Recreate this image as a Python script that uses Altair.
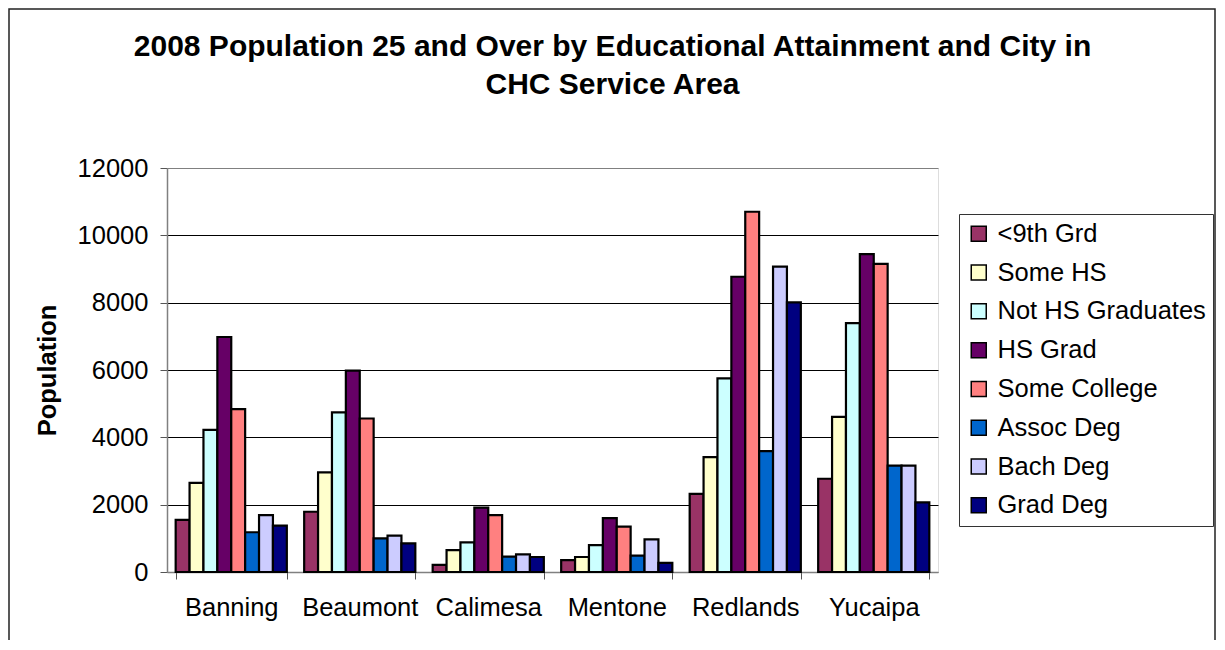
import altair as alt
import pandas as pd

cities = ["Banning", "Beaumont", "Calimesa", "Mentone", "Redlands", "Yucaipa"]
levels = ["<9th Grd", "Some HS", "Not HS Graduates", "HS Grad", "Some College",
          "Assoc Deg", "Bach Deg", "\u2002Grad Deg"]
colors = ["#993366", "#FFFFCC", "#CCFFFF", "#660066", "#FF8080",
          "#0066CC", "#CCCCFF", "#000080"]

lt9 = [1550, 1790, 210, 350, 2320, 2770]
some_hs = [2650, 2960, 650, 445, 3410, 4610]
not_hs = [4220, 4740, 880, 800, 5750, 7390]
hs_grad = [6980, 5980, 1910, 1600, 8770, 9440]
some_college = [4840, 4560, 1690, 1345, 10700, 9150]
assoc = [1180, 1000, 455, 485, 3590, 3160]
bach = [1690, 1080, 525, 970, 9070, 3160]
grad = [1375, 850, 445, 270, 8010, 2070]

series = [lt9, some_hs, not_hs, hs_grad, some_college, assoc, bach, grad]
rows = []
for lvl, vals in zip(levels, series):
    for c, v in zip(cities, vals):
        rows.append({"City": c, "Level": lvl, "Population": v})
df = pd.DataFrame(rows)

FONT = "Liberation Sans"
LBL = 25.5

bars = alt.Chart(df).mark_bar(stroke="black", strokeWidth=2.2).encode(
    x=alt.X("City:N", sort=cities,
            scale=alt.Scale(paddingInner=0.135, paddingOuter=0.0675),
            axis=alt.Axis(title=None, labelAngle=0, tickBand="extent", tickSize=7,
                          tickColor="#555555", domainColor="#808080", domainWidth=1.5,
                          labelFontSize=LBL, labelPadding=16, labelColor="black",
                          labelFont=FONT)),
    xOffset=alt.XOffset("Level:N", sort=levels,
                        scale=alt.Scale(paddingInner=0, paddingOuter=0)),
    y=alt.Y("Population:Q",
            scale=alt.Scale(domain=[0, 12000], nice=False),
            axis=alt.Axis(values=list(range(0, 12001, 2000)), format="d",
                          title="Population", titleFontSize=25.5, titleFontWeight="bold",
                          titleFont=FONT, titleColor="black",
                          titleAngle=270, titleX=-112, titleY=202,
                          titleAlign="center", titleBaseline="alphabetic",
                          labelFontSize=LBL, labelFont=FONT, labelColor="black",
                          labelPadding=12, tickSize=7, tickColor="#555555",
                          domainColor="#808080", domainWidth=1.5,
                          grid=True, gridWidth=1,
                          gridColor={"condition": {"test": "datum.value === 12000 || datum.value === 0",
                                                   "value": "#808080"},
                                     "value": "black"})),
    color=alt.Color("Level:N", sort=levels,
                    scale=alt.Scale(domain=levels, range=colors),
                    legend=alt.Legend(title=None, orient="none", legendX=792, legendY=46,
                                      symbolType="square", symbolSize=225,
                                      symbolStrokeColor="black", symbolStrokeWidth=1.5,
                                      labelFontSize=LBL, labelFont=FONT, labelColor="black",
                                      labelOffset=6, rowPadding=11.8,
                                      padding=7, strokeColor="#333333",
                                      fillColor="white", labelLimit=400)),
)

frame = alt.Chart(pd.DataFrame({"f": [0]})).mark_rect(
    fill="transparent", stroke="#222222", strokeWidth=1.5
).encode(
    x=alt.value(-158), x2=alt.value(1048), y=alt.value(-159), y2=alt.value(520)
)

chart = alt.layer(frame, bars).properties(
    width=771, height=404,
    autosize=alt.AutoSizeParams(type="none"),
    padding={"left": 159, "top": 160, "right": 279, "bottom": 68},
    title=alt.TitleParams(
        text=["2008 Population 25 and Over by Educational Attainment and City in",
              "CHC Service Area"],
        fontSize=30, font=FONT, fontWeight="bold", color="black",
        anchor="middle", lineHeight=38, dx=60, offset=-92),
).configure_view(
    fill="#C0C0C0", stroke="#808080", strokeWidth=1.5
).configure(background="white")

chart.save("out.html", embed_options={"renderer": "svg", "actions": False})
